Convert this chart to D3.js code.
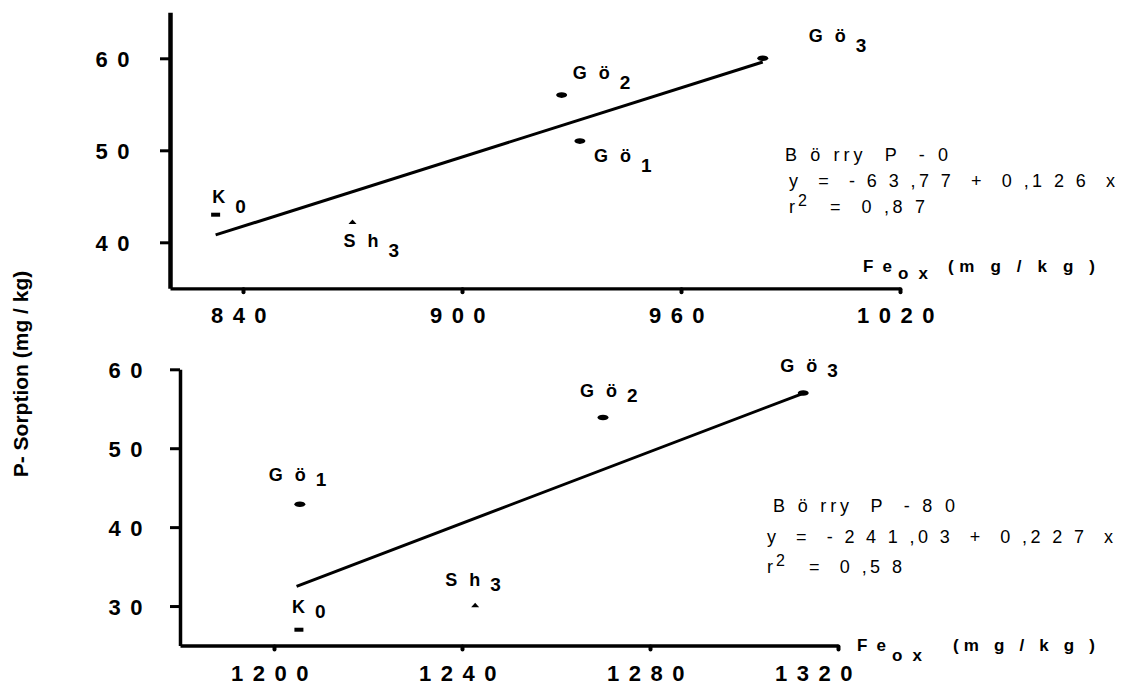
<!DOCTYPE html>
<html>
<head>
<meta charset="utf-8">
<script src="https://cdn.jsdelivr.net/npm/d3@7"></script>
<style>
body { margin: 0; background: #fff; }
svg text { font-family: "Liberation Sans", Arial, sans-serif; fill: #000; white-space: pre; }
</style>
</head>
<body>
<svg id="chart" width="1126" height="684"></svg>
<script>
// samples (label + subscript) and marker kind
var sampleNames = ["K", "Sh", "Gö", "Gö", "Gö"];
var sampleSubs = ["0", "3", "1", "2", "3"];
var sampleMarks = ["rect", "tri", "dot", "dot", "dot"];

// Börry P-0
var feTop = [832.5, 870, 932.3, 927.3, 982.4];
var pTop = [43, 42.2, 51, 56, 60];
var fitTopFe = [832.5, 982.4];
var fitTopP = [40.8, 59.6];
var xTicksTop = [840, 900, 960, 1020];
var yTicksTop = [40, 50, 60];
var notesTop = ["B ö rry  P  - 0", "y  =  - 6 3 ,7 7  +  0 ,1 2 6  x", "=  0 ,8 7"];

// Börry P-80
var feBottom = [1205.3, 1242.8, 1205.5, 1270, 1312.6];
var pBottom = [27, 30.1, 42.9, 53.9, 57];
var fitBottomFe = [1204.8, 1312.6];
var fitBottomP = [32.5, 56.96];
var xTicksBottom = [1200, 1240, 1280, 1320];
var yTicksBottom = [30, 40, 50, 60];
var notesBottom = ["B ö rry  P  - 8 0", "y  =  - 2 4 1 ,0 3  +  0 ,2 2 7  x", "=  0 ,5 8"];

var yTitle = "P- Sorption (mg / kg)";

var svg = d3.select("#chart");

function addText(g, x, y, size, bold) {
  return g.append("text")
    .attr("x", x).attr("y", y)
    .attr("font-size", size)
    .attr("font-weight", bold ? "bold" : null);
}

var panels = [
  {
    fe: feTop, p: pTop, fitFe: fitTopFe, fitP: fitTopP,
    xTicks: xTicksTop, yTicks: yTicksTop, notes: notesTop,
    x: d3.scaleLinear().domain([820, 1020]).range([170, 900]),
    y: d3.scaleLinear().domain([35, 65]).range([288.3, 12.3]),
    yAxisW: 4.5, xAxisW: 3.3, yLabelX: -31, subDy: 10,
    labelOff: [[-3.5, -11.5], [-9, 25], [14, 21], [11, -16], [46, -16]],
    lastTickDx: 0,
    note: { x: [785, 789, 789], y: [161, 187, 213], w: [163, 326, 95], eqDx: 41 },
    feLab: { x: 863, y: 272, subDy: 7, paren: 85, parenW: 147 }
  },
  {
    fe: feBottom, p: pBottom, fitFe: fitBottomFe, fitP: fitBottomP,
    xTicks: xTicksBottom, yTicks: yTicksBottom, notes: notesBottom,
    x: d3.scaleLinear().domain([1180, 1320]).range([180, 838]),
    y: d3.scaleLinear().domain([25, 60]).range([645.5, 369.3]),
    yAxisW: 3.5, xAxisW: 3.3, yLabelX: -28, subDy: 5,
    labelOff: [[-7, -17], [-30, -19], [-31, -23], [-23, -20], [-23, -21]],
    lastTickDx: -20,
    note: { x: [773, 767, 767], y: [512, 543, 573], w: [182, 346, 93], eqDx: 42 },
    feLab: { x: 857, y: 651, subDy: 10, paren: 96, parenW: 142 }
  }
];

panels.forEach(function (pn) {
  var g = svg.append("g");
  var x0 = pn.x.range()[0], yBase = pn.y.range()[0];

  // y axis
  var ya = g.append("g").attr("transform", "translate(" + x0 + ",0)")
    .call(d3.axisLeft(pn.y).tickValues(pn.yTicks).tickSize(10).tickSizeOuter(0)
      .tickFormat(d3.format("d")));
  ya.attr("font-family", null);
  ya.select(".domain").attr("stroke", "#000").attr("stroke-width", pn.yAxisW);
  ya.selectAll(".tick line").attr("stroke", "#000").attr("stroke-width", 3);
  ya.selectAll(".tick text")
    .attr("x", pn.yLabelX).attr("dy", "0.38em")
    .attr("font-size", 22).attr("font-weight", "bold")
    .attr("letter-spacing", 9.5);

  // x axis
  var xa = g.append("g").attr("transform", "translate(0," + yBase + ")")
    .call(d3.axisBottom(pn.x).tickValues(pn.xTicks).tickSize(4).tickSizeOuter(0)
      .tickFormat(d3.format("d")));
  xa.attr("font-family", null);
  xa.select(".domain").attr("stroke", "#000").attr("stroke-width", pn.xAxisW);
  xa.selectAll(".tick line").attr("stroke", "#000").attr("stroke-width", 4)
    .attr("stroke-linecap", "round").attr("y1", 1);
  xa.selectAll(".tick text")
    .attr("y", 35).attr("dy", 0)
    .attr("dx", function (d, i) { return i === pn.xTicks.length - 1 ? pn.lastTickDx : 0; })
    .attr("font-size", 22).attr("font-weight", "bold")
    .attr("letter-spacing", 9.5);

  // regression line
  g.append("line")
    .attr("x1", pn.x(pn.fitFe[0])).attr("y1", pn.y(pn.fitP[0]))
    .attr("x2", pn.x(pn.fitFe[1])).attr("y2", pn.y(pn.fitP[1]))
    .attr("stroke", "#000").attr("stroke-width", 3);

  // markers + labels
  pn.fe.forEach(function (fe, i) {
    var cx = pn.x(fe), cy = pn.y(pn.p[i]);
    var k = sampleMarks[i];
    if (k === "rect") {
      g.append("rect").attr("x", cx - 4.5).attr("y", cy - 2).attr("width", 9).attr("height", 4).attr("fill", "#000");
    } else if (k === "tri") {
      g.append("path").attr("d", "M" + (cx - 4) + "," + (cy + 2) + "L" + cx + "," + (cy - 2.5) + "L" + (cx + 4) + "," + (cy + 2) + "Z").attr("fill", "#000");
    } else {
      g.append("ellipse").attr("cx", cx).attr("cy", cy).attr("rx", 5.5).attr("ry", 2.8).attr("fill", "#000");
    }
    var off = pn.labelOff[i];
    var t = addText(g, cx + off[0], cy + off[1], 18, true).attr("letter-spacing", 12);
    t.append("tspan").text(sampleNames[i]);
    t.append("tspan").attr("dx", -2).attr("dy", pn.subDy).attr("font-size", 19).text(sampleSubs[i]);
  });

  // regression note
  var nt = pn.note;
  [0, 1].forEach(function (j) {
    addText(g, nt.x[j], nt.y[j], 18, false)
      .attr("textLength", nt.w[j]).attr("lengthAdjust", "spacing")
      .text(pn.notes[j]);
  });
  addText(g, nt.x[2], nt.y[2], 18, false).text("r");
  addText(g, nt.x[2] + 9, nt.y[2] - 7, 16, false).text("2");
  addText(g, nt.x[2] + nt.eqDx, nt.y[2], 18, false)
    .attr("textLength", nt.w[2]).attr("lengthAdjust", "spacing").text(pn.notes[2]);

  // x axis title
  var fl = pn.feLab;
  addText(g, fl.x, fl.y, 17, true).attr("letter-spacing", 9).text("Fe");
  addText(g, fl.x + 35, fl.y + fl.subDy, 17, true).attr("letter-spacing", 10).text("ox");
  addText(g, fl.x + fl.paren, fl.y, 17, true)
    .attr("textLength", fl.parenW).attr("lengthAdjust", "spacing").text("(m g / k g )");
});

// shared y axis title
svg.append("text")
  .attr("transform", "translate(28,374) rotate(-90)")
  .attr("text-anchor", "middle")
  .attr("font-size", 21).attr("font-weight", "bold")
  .text(yTitle);
</script>
</body>
</html>
